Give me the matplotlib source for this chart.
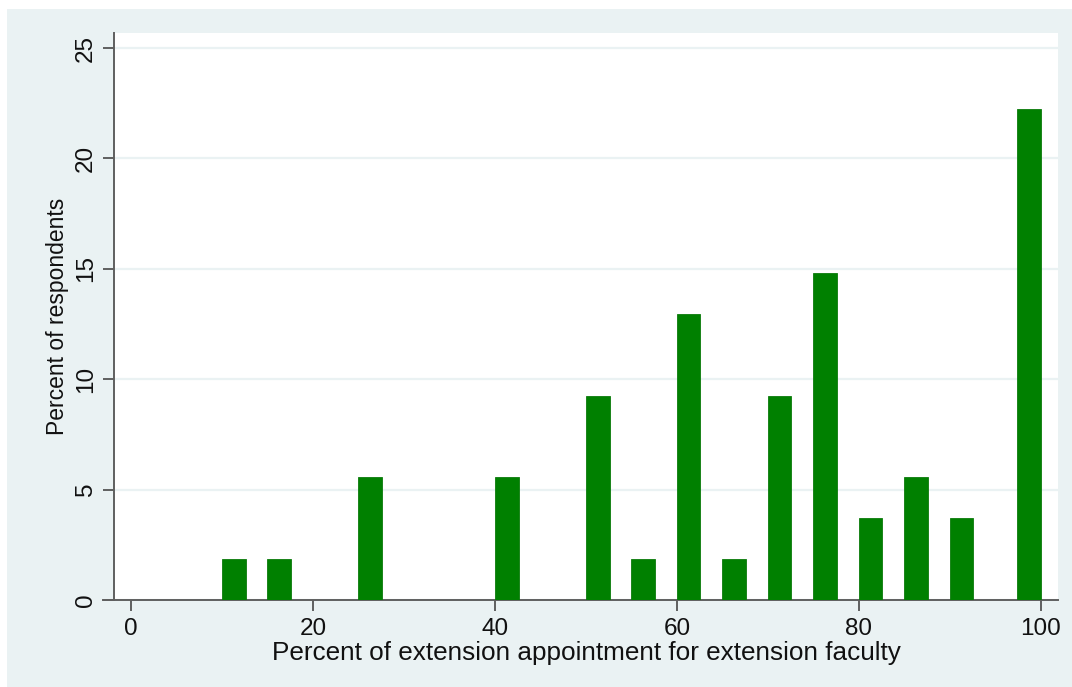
import matplotlib.pyplot as plt
from matplotlib.patches import Rectangle

plt.rcParams['font.family'] = ['Liberation Sans', 'DejaVu Sans']

# bar centres (percent of extension appointment) and share of respondents
appointment = [11.3, 16.3, 26.3, 41.3, 51.3, 56.3, 61.3, 66.3, 71.3, 76.3, 81.3, 86.3, 91.3, 98.7]
respondents = [1.85, 1.85, 5.56, 5.56, 9.26, 1.85, 12.96, 1.85, 9.26, 14.81, 3.70, 5.56, 3.70, 22.22]
bar_width = 2.6

bg = '#eaf2f3'
axis_col = '#5f5f5f'

fig = plt.figure(figsize=(10.72, 6.87), dpi=100, facecolor='white')
fig.patches.append(Rectangle((7 / 1072, 0), 1, 1 - 9 / 687, transform=fig.transFigure,
                             facecolor=bg, edgecolor='none', zorder=-10))
ax = fig.add_axes([114 / 1072, 1 - 600 / 687, (1058 - 114) / 1072, (600 - 33) / 687])
ax.set_facecolor('white')

ax.bar(appointment, respondents, width=bar_width, color='#008000', edgecolor='#0a7a0a',
       linewidth=0.6, zorder=3)

ax.set_xlim(-1.87, 101.9)
ax.set_ylim(0, 25.68)
ax.set_xticks(range(0, 101, 20))
ax.set_yticks(range(0, 26, 5))
ax.yaxis.grid(True, color=bg, linewidth=1.6, zorder=0)
ax.set_axisbelow(True)

for side in ['top', 'right']:
    ax.spines[side].set_visible(False)
for side in ['left', 'bottom']:
    ax.spines[side].set_color(axis_col)
    ax.spines[side].set_linewidth(1.4)
ax.spines['bottom'].set_bounds(-3.05, 101.9)

ax.tick_params(axis='both', direction='out', length=8, width=1.4, color=axis_col,
               labelcolor='#111111')
ax.tick_params(axis='x', labelsize=17.5, pad=5)
ax.tick_params(axis='y', labelsize=17.5, pad=4.5)
for lbl in ax.get_yticklabels():
    lbl.set_rotation(90)
    lbl.set_va('center')

ax.set_xlabel('Percent of extension appointment for extension faculty', fontsize=18.8,
              color='#111111', labelpad=1)
ax.set_ylabel('Percent of respondents', fontsize=16.5, color='#111111', labelpad=4)

plt.savefig('out.png', dpi=100, facecolor=fig.get_facecolor())
